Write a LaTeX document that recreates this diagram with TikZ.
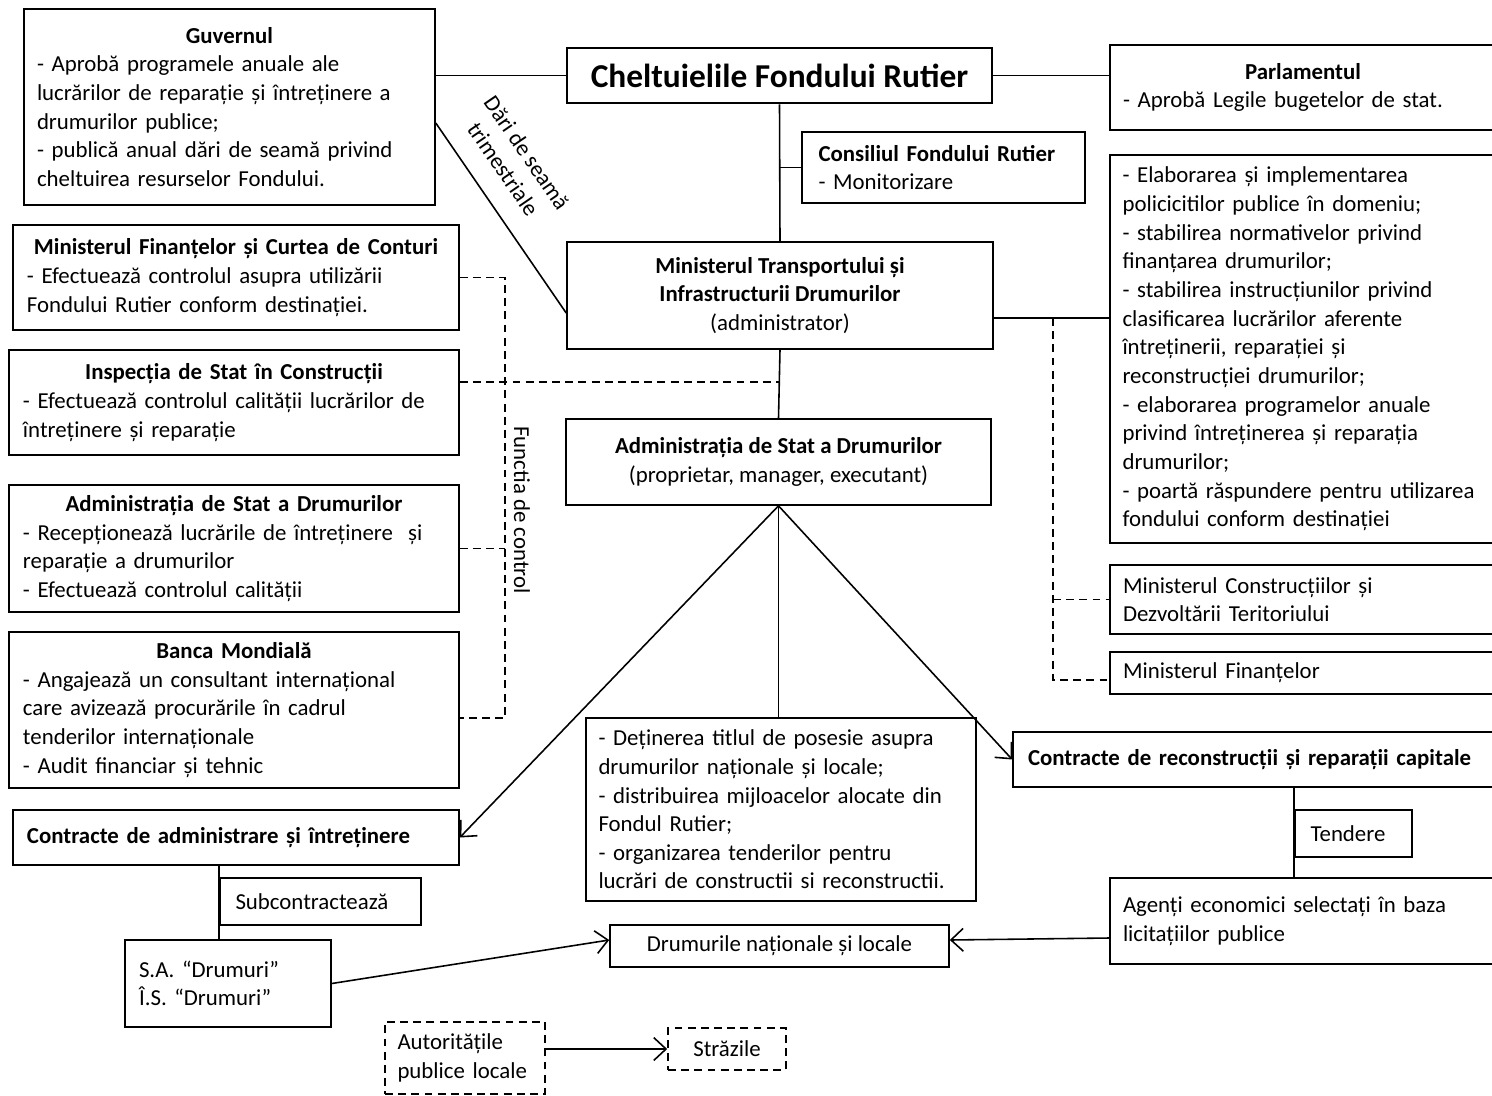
\documentclass[tikz,border=0pt]{standalone}
\usepackage{fontspec}
\setmainfont{Carlito}
\usetikzlibrary{arrows.meta,positioning}

\newcommand{\boxfont}{\fontsize{13pt}{16.3pt}\selectfont}
\newcommand{\boxhead}[1]{\makebox[\linewidth][c]{\bfseries #1}}

\begin{document}
\begin{tikzpicture}[line width=0.9pt,
        every node/.style={font=\boxfont},
        box/.style={draw,rectangle,inner sep=0pt,align=left},
        cbox/.style={draw,rectangle,inner sep=0pt,align=center},
        dbox/.style={box,dash pattern=on 4.5pt off 3pt},
        ctrl/.style={dash pattern=on 4.5pt off 3pt},
        arr/.style={-{Straight Barb[length=7pt,width=13pt]}}]
        \useasboundingbox (0,0) rectangle (29.84,-21.9);

        \node[box,minimum width=8.22cm,minimum height=3.92cm,text width=7.7cm] (guv) at (4.59,-2.14) {\boxhead{Guvernul}\\- Aprobă programele anuale ale\\lucrărilor de reparație și întreținere a\\drumurilor publice;\\- publică anual dări de seamă privind\\cheltuirea resurselor Fondului.};
        \node[cbox,line width=1.6pt,minimum width=8.5cm,minimum height=1.1cm,font=\fontsize{19pt}{22pt}\selectfont\bfseries] (chelt) at (15.59,-1.51) {Cheltuielile Fondului Rutier};
        \node[box,minimum width=7.72cm,minimum height=1.7cm,text width=7.2cm] (parl) at (26.06,-1.75) {\boxhead{Parlamentul}\\- Aprobă Legile bugetelor de stat.};
        \node[box,minimum width=5.66cm,minimum height=1.42cm,text width=5.0cm] (cons) at (18.87,-3.35) {\textbf{Consiliul Fondului Rutier}\\- Monitorizare};
        \node[box,minimum width=7.72cm,minimum height=7.76cm,text width=7.22cm] (rbox) at (26.06,-6.98) {- Elaborarea și implementarea\\policicitilor publice în domeniu;\\- stabilirea normativelor privind\\finanțarea drumurilor;\\- stabilirea instrucțiunilor privind\\clasificarea lucrărilor aferente\\întreținerii, reparației și\\reconstrucției drumurilor;\\- elaborarea programelor anuale\\privind întreținerea și reparația\\drumurilor;\\- poartă răspundere pentru utilizarea\\fondului conform destinației};

        \node[box,minimum width=8.92cm,minimum height=2.1cm,text width=8.36cm] (minfin) at (4.72,-5.55) {\boxhead{Ministerul Finanțelor și Curtea de Conturi}\\- Efectuează controlul asupra utilizării\\Fondului Rutier conform destinației.};
        \node[cbox,minimum width=8.52cm,minimum height=2.14cm] (mtid) at (15.6,-5.91) {\textbf{Ministerul Transportului și}\\\textbf{Infrastructurii Drumurilor}\\(administrator)};
        \node[box,minimum width=9cm,minimum height=2.1cm,text width=8.44cm] (isc) at (4.68,-8.05) {\boxhead{Inspecția de Stat în Construcții}\\- Efectuează controlul calității lucrărilor de\\întreținere și reparație};
        \node[cbox,minimum width=8.5cm,minimum height=1.72cm] (asdc) at (15.57,-9.24) {\textbf{Administrația de Stat a Drumurilor}\\(proprietar, manager, executant)};
        \node[box,minimum width=9cm,minimum height=2.54cm,text width=8.44cm] (asdl) at (4.68,-10.97) {\boxhead{Administrația de Stat a Drumurilor}\\- Recepționează lucrările de întreținere ~și\\reparație a drumurilor\\- Efectuează controlul calității};
        \node[box,minimum width=9cm,minimum height=3.12cm,text width=8.44cm] (bm) at (4.68,-14.2) {\boxhead{Banca Mondială}\\- Angajează un consultant internațional\\care avizează procurările în cadrul\\tenderilor internaționale\\- Audit financiar și tehnic};
        \node[box,minimum width=7.72cm,minimum height=1.38cm,text width=7.2cm] (mcdt) at (26.06,-11.99) {Ministerul Construcțiilor și\\Dezvoltării Teritoriului};
        \node[box,minimum width=7.72cm,minimum height=0.84cm,text width=7.2cm] (mf) at (26.06,-13.46) {Ministerul Finanțelor};

        \node[box,minimum width=7.8cm,minimum height=3.66cm,text width=7.3cm] (adm) at (15.62,-16.19) {- Deținerea titlul de posesie asupra\\drumurilor naționale și locale;\\- distribuirea mijloacelor alocate din\\Fondul Rutier;\\- organizarea tenderilor pentru\\lucrări de constructii si reconstructii.};
        \node[box,minimum width=9.9cm,minimum height=1.1cm,text width=9.3cm,font=\boxfont\bfseries] (crc) at (25.21,-15.19) {Contracte de reconstrucții și reparații capitale};
        \node[box,minimum width=8.92cm,minimum height=1.1cm,text width=8.36cm,font=\boxfont\bfseries] (cai) at (4.72,-16.75) {Contracte de administrare și întreținere};
        \node[box,minimum width=4.02cm,minimum height=0.94cm,text width=3.4cm] (sub) at (6.41,-18.03) {Subcontractează};
        \node[box,minimum width=2.34cm,minimum height=0.94cm,text width=1.72cm] (tend) at (27.07,-16.67) {Tendere};
        \node[box,minimum width=4.12cm,minimum height=1.74cm,text width=3.56cm] (sa) at (4.56,-19.67) {S.A. “Drumuri”\\Î.S. “Drumuri”};
        \node[cbox,minimum width=6.78cm,minimum height=0.84cm] (drum) at (15.59,-18.92) {Drumurile naționale și locale};
        \node[box,minimum width=7.72cm,minimum height=1.72cm,text width=7.2cm] (agent) at (26.06,-18.42) {Agenți economici selectați în baza\\licitațiilor publice};
        \node[dbox,minimum width=3.2cm,minimum height=1.44cm,text width=2.7cm] (aut) at (9.3,-21.16) {Autoritățile\\publice locale};
        \node[dbox,align=center,minimum width=2.36cm,minimum height=0.84cm] (str) at (14.54,-20.98) {Străzile};

        \coordinate (ctl) at (10.1,0);
        \coordinate (mmx) at (21.06,0);
        \node[rotate=-90] (ctllabel) at (10.44,-10.2) {Functia de control};

        \draw (guv.east |- chelt.west) -- (chelt.west);
        \draw (chelt.east) -- (chelt.east -| parl.west);
        \draw (chelt.south) -- (mtid.north);
        \draw (cons.west) -- (cons.west -| chelt.south);
        \draw ([yshift=-0.32cm]guv.east) -- node[pos=0.33,sloped,above=0.3cm,align=center] (darilabel) {Dări de seamă\\trimestriale} ([yshift=-0.35cm]mtid.west);
        \draw (mtid.south) -- (asdc.north);
        \draw[ctrl] ([yshift=0.41cm]isc.east) -- ([yshift=0.41cm]isc.east -| mtid.south);
        \draw[ctrl] (minfin.east) -- (minfin.east -| ctl) -- ([yshift=-0.16cm]bm.east -| ctl) -- ([yshift=-0.16cm]bm.east);
        \draw[ctrl] (asdl.east) -- (asdl.east -| ctl);
        \draw ([yshift=-0.45cm]mtid.east) -- ([yshift=-0.45cm]mtid.east -| rbox.west);
        \draw[ctrl] ([yshift=-0.45cm]mtid.east -| mmx) -- ([yshift=-0.14cm]mf.west -| mmx) -- ([yshift=-0.14cm]mf.west);
        \draw[ctrl] (mcdt.west -| mmx) -- (mcdt.west);

        \draw[arr] (asdc.south) -- (cai.east);
        \draw (asdc.south) -- (adm.north -| asdc.south);
        \draw[arr] (asdc.south) -- (crc.west);
        \draw (cai.south -| sub.west) -- (sa.north -| sub.west);
        \draw (crc.south -| tend.west) -- (agent.north -| tend.west);
        \draw[arr] (sa.east) -- ([yshift=0.12cm]drum.west);
        \draw[arr] ([yshift=-0.34cm]agent.west) -- ([yshift=0.12cm]drum.east);
        \draw[arr] (str.west -| aut.east) -- (str.west);
\end{tikzpicture}
\end{document}
